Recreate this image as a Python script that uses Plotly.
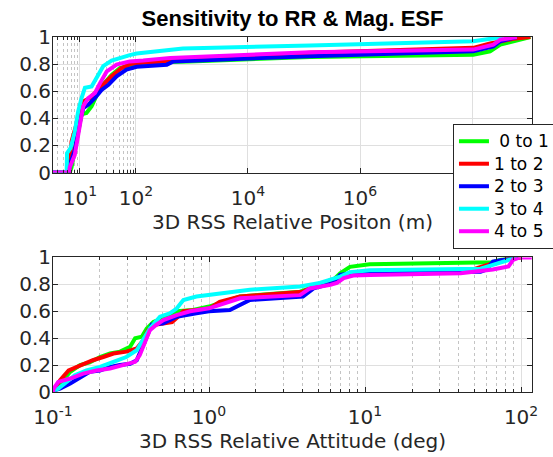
import plotly.graph_objects as go

# ---------------- data ----------------
series_names = ["\u00a00 to 1", "1 to 2", "2 to 3", "3 to 4", "4 to 5"]
series_colors = ["#00ff00", "#ff0000", "#0000ff", "#00ffff", "#ff00ff"]

# Top: 3D RSS Relative Position (m)
pos_x_g = [3.3, 6.6, 7.1, 8.7, 10.7, 13.1, 16.2, 19.9, 26.1, 36.8, 51.8, 77.6, 130, 910, 1.28e5, 1.05e8, 2.1e8, 3.2e8, 5.5e8, 1.1e9]
pos_y_g = [0, 0, 0.04, 0.23, 0.43, 0.44, 0.49, 0.57, 0.65, 0.72, 0.77, 0.79, 0.81, 0.82, 0.853, 0.87, 0.895, 0.944, 0.969, 1.0]
pos_x_r = [3.3, 6.4, 6.6, 7.1, 9.3, 11.5, 15.1, 19.9, 26.1, 36.8, 55, 77.6, 130, 1.28e5, 1.05e8, 2.1e8, 5.5e8, 1.1e9]
pos_y_r = [0, 0, 0.08, 0.23, 0.40, 0.525, 0.55, 0.60, 0.648, 0.71, 0.77, 0.80, 0.81, 0.883, 0.92, 0.952, 0.987, 1.0]
pos_x_b = [3.3, 6.3, 6.6, 8.1, 10, 11.5, 14.1, 18.6, 24.4, 32.4, 45.2, 68, 103, 355, 467, 1.28e5, 1.05e8, 2.4e8, 3.2e8, 6.3e8]
pos_y_b = [0, 0, 0.055, 0.167, 0.376, 0.475, 0.5, 0.55, 0.61, 0.648, 0.71, 0.76, 0.78, 0.796, 0.82, 0.858, 0.895, 0.93, 0.969, 1.0]
pos_x_c = [3.3, 5.8, 5.9, 6.8, 8.1, 9.3, 10.7, 12.3, 16.2, 19.9, 26.1, 36.8, 51.8, 77.6, 103, 690, 1.28e5, 1.05e8, 3.6e8]
pos_y_c = [0, 0, 0.143, 0.18, 0.30, 0.45, 0.55, 0.625, 0.635, 0.70, 0.785, 0.826, 0.846, 0.866, 0.878, 0.915, 0.937, 0.969, 1.0]
pos_x_m = [3.3, 6.4, 6.6, 8.1, 10, 11.5, 14.1, 18.6, 22.9, 30.2, 45.2, 77.6, 135, 410, 1.28e5, 1.05e8, 2.4e8, 3.2e8, 6.3e8]
pos_y_m = [0, 0, 0.04, 0.13, 0.35, 0.49, 0.55, 0.587, 0.66, 0.747, 0.796, 0.82, 0.826, 0.846, 0.888, 0.907, 0.944, 0.98, 1.0]

# Bottom: 3D RSS Relative Attitude (deg)
att_x_g = [0.1, 0.111, 0.129, 0.149, 0.172, 0.2, 0.232, 0.269, 0.312, 0.336, 0.371, 0.398, 0.44, 0.51, 0.62, 0.79, 1.0, 1.58, 3.83, 5.13, 6.26, 6.92, 8.0, 10.7, 60, 66, 75, 94]
att_y_g = [0.013, 0.06, 0.15, 0.2, 0.22, 0.26, 0.286, 0.3, 0.336, 0.40, 0.41, 0.47, 0.52, 0.55, 0.6, 0.61, 0.635, 0.71, 0.746, 0.796, 0.833, 0.883, 0.93, 0.95, 0.958, 0.965, 0.985, 1.0]
att_x_r = [0.1, 0.111, 0.126, 0.135, 0.156, 0.18, 0.21, 0.244, 0.295, 0.344, 0.38, 0.407, 0.45, 0.537, 0.58, 0.635, 0.685, 0.83, 1.0, 1.17, 1.58, 4.0, 4.43, 5.69, 6.92, 8.0, 10.7, 45, 52, 66, 81, 100]
att_y_r = [0.01, 0.087, 0.16, 0.175, 0.2, 0.236, 0.26, 0.286, 0.3, 0.324, 0.386, 0.46, 0.5, 0.51, 0.52, 0.56, 0.6, 0.61, 0.62, 0.67, 0.71, 0.746, 0.77, 0.82, 0.858, 0.883, 0.89, 0.90, 0.92, 0.958, 0.988, 1.0]
att_x_b = [0.1, 0.111, 0.129, 0.149, 0.172, 0.2, 0.232, 0.269, 0.312, 0.344, 0.371, 0.398, 0.43, 0.51, 0.62, 0.83, 1.0, 1.36, 1.83, 4.0, 4.68, 6.26, 6.92, 8.0, 10.7, 55, 60, 66, 85, 96]
att_y_b = [0.01, 0.025, 0.063, 0.11, 0.15, 0.16, 0.187, 0.2, 0.21, 0.236, 0.324, 0.42, 0.5, 0.51, 0.56, 0.585, 0.6, 0.61, 0.684, 0.71, 0.77, 0.81, 0.87, 0.88, 0.888, 0.893, 0.91, 0.97, 0.995, 1.0]
att_x_c = [0.1, 0.108, 0.119, 0.138, 0.164, 0.2, 0.244, 0.295, 0.344, 0.38, 0.418, 0.485, 0.56, 0.62, 0.685, 0.83, 1.0, 1.83, 3.83, 5.13, 6.92, 8.0, 10.7, 55, 66, 81, 94]
att_y_c = [0.01, 0.025, 0.063, 0.125, 0.16, 0.187, 0.224, 0.26, 0.31, 0.40, 0.473, 0.56, 0.585, 0.62, 0.684, 0.71, 0.72, 0.76, 0.784, 0.81, 0.858, 0.89, 0.905, 0.916, 0.945, 0.978, 1.0]
att_x_m = [0.1, 0.101, 0.108, 0.129, 0.156, 0.19, 0.232, 0.282, 0.336, 0.36, 0.39, 0.418, 0.46, 0.51, 0.62, 0.757, 1.0, 1.58, 3.83, 4.43, 6.0, 6.6, 7.3, 8.4, 10.7, 41, 66, 83, 89, 98, 117]
att_y_m = [0.0, 0.025, 0.075, 0.1, 0.137, 0.16, 0.175, 0.2, 0.224, 0.274, 0.373, 0.46, 0.5, 0.535, 0.572, 0.6, 0.622, 0.697, 0.72, 0.77, 0.796, 0.81, 0.846, 0.866, 0.87, 0.883, 0.91, 0.933, 0.983, 1.0, 1.0]

y_ticks = [0, 0.2, 0.4, 0.6, 0.8, 1]
y_ticktext = ["0", "0.2", "0.4", "0.6", "0.8", "1"]
pos_ticks = [10, 100, 1e4, 1e6, 1e8]
pos_ticktext = ["10<sup>1</sup>", "10<sup>2</sup>", "10<sup>4</sup>", "10<sup>6</sup>", "10<sup>8</sup>"]
pos_minor = [4, 5, 6, 7, 8, 9, 20, 30, 40, 50, 60, 70, 80, 90]
att_ticks = [0.1, 1, 10, 100]
att_ticktext = ["10<sup>-1</sup>", "10<sup>0</sup>", "10<sup>1</sup>", "10<sup>2</sup>"]
att_minor = [0.2, 0.3, 0.4, 0.5, 0.6, 0.7, 0.8, 0.9, 2, 3, 4, 5, 6, 7, 8, 9, 20, 30, 40, 50, 60, 70, 80, 90]

pos_data = [(pos_x_g, pos_y_g), (pos_x_r, pos_y_r), (pos_x_b, pos_y_b), (pos_x_c, pos_y_c), (pos_x_m, pos_y_m)]
att_data = [(att_x_g, att_y_g), (att_x_r, att_y_r), (att_x_b, att_y_b), (att_x_c, att_y_c), (att_x_m, att_y_m)]

# ---------------- figure ----------------
FONT = "DejaVu Sans, Liberation Sans, Arial, sans-serif"
TFONT = "Liberation Sans, Arial, Helvetica, sans-serif"
AX = "#262626"
fig = go.Figure()
for name, col, (x, y) in zip(series_names, series_colors, pos_data):
    fig.add_trace(go.Scatter(x=x, y=y, mode="lines",
                             name="<span style='font-size:17px'>" + name + "</span>",
                             line=dict(color=col, width=4), xaxis="x", yaxis="y"))
for name, col, (x, y) in zip(series_names, series_colors, att_data):
    fig.add_trace(go.Scatter(x=x, y=y, mode="lines", name=name, showlegend=False,
                             line=dict(color=col, width=4), xaxis="x2", yaxis="y2"))

def xax(ticks, text, minor, rng, title, anchor, standoff):
    return dict(type="log", range=rng, tickmode="array", tickvals=ticks, ticktext=text,
                showgrid=True, gridcolor="#dfdfdf", gridwidth=1,
                ticks="inside", ticklen=5, tickcolor=AX, ticklabelstandoff=7,
                showline=True, linecolor=AX, linewidth=1, mirror="ticks",
                minor=dict(tickmode="array", tickvals=minor, showgrid=True, gridcolor="#c4c4c4",
                           griddash="dot", ticks="inside", ticklen=3, tickcolor=AX),
                tickfont=dict(family=FONT, size=20, color=AX),
                title=dict(text=title, font=dict(family=FONT, size=20, color=AX), standoff=standoff),
                anchor=anchor, domain=[0, 1], zeroline=False)

def yax(domain, anchor):
    return dict(range=[0, 1], tickmode="array", tickvals=y_ticks, ticktext=y_ticktext,
                showgrid=True, gridcolor="#dfdfdf", gridwidth=1,
                ticks="inside", ticklen=5, tickcolor=AX, ticklabelstandoff=-3,
                showline=True, linecolor=AX, linewidth=1, mirror="ticks",
                tickfont=dict(family=FONT, size=20, color=AX),
                domain=domain, anchor=anchor, zeroline=False)

fig.update_layout(
    width=553, height=457,
    margin=dict(l=53, r=21, t=37, b=65, autoexpand=False),
    paper_bgcolor="white", plot_bgcolor="white",
    title=dict(text="<b>Sensitivity to RR &amp; Mag. ESF</b>", x=0.5, xref="paper",
               y=1 - 18 / 457, yref="container", yanchor="middle", xanchor="center",
               font=dict(family=TFONT, size=22, color="black")),
    xaxis=xax(pos_ticks, pos_ticktext, pos_minor, [0.52, 9.07], "3D RSS Relative Positon (m)", "y", 6),
    yaxis=yax([0.618, 1.0], "x"),
    xaxis2=xax(att_ticks, att_ticktext, att_minor, [-1, 2.07], "3D RSS Relative Attitude (deg)", "y2", 4),
    yaxis2=yax([0.0, 0.379], "x2"),
    legend=dict(x=0.835, y=0.755, xanchor="left", yanchor="top", xref="paper", yref="paper",
                bgcolor="white", bordercolor=AX, borderwidth=1,
                font=dict(family=FONT, size=15, color="black"),
                itemwidth=30, tracegroupgap=0),
    showlegend=True,
)

fig.write_html("out.html")
